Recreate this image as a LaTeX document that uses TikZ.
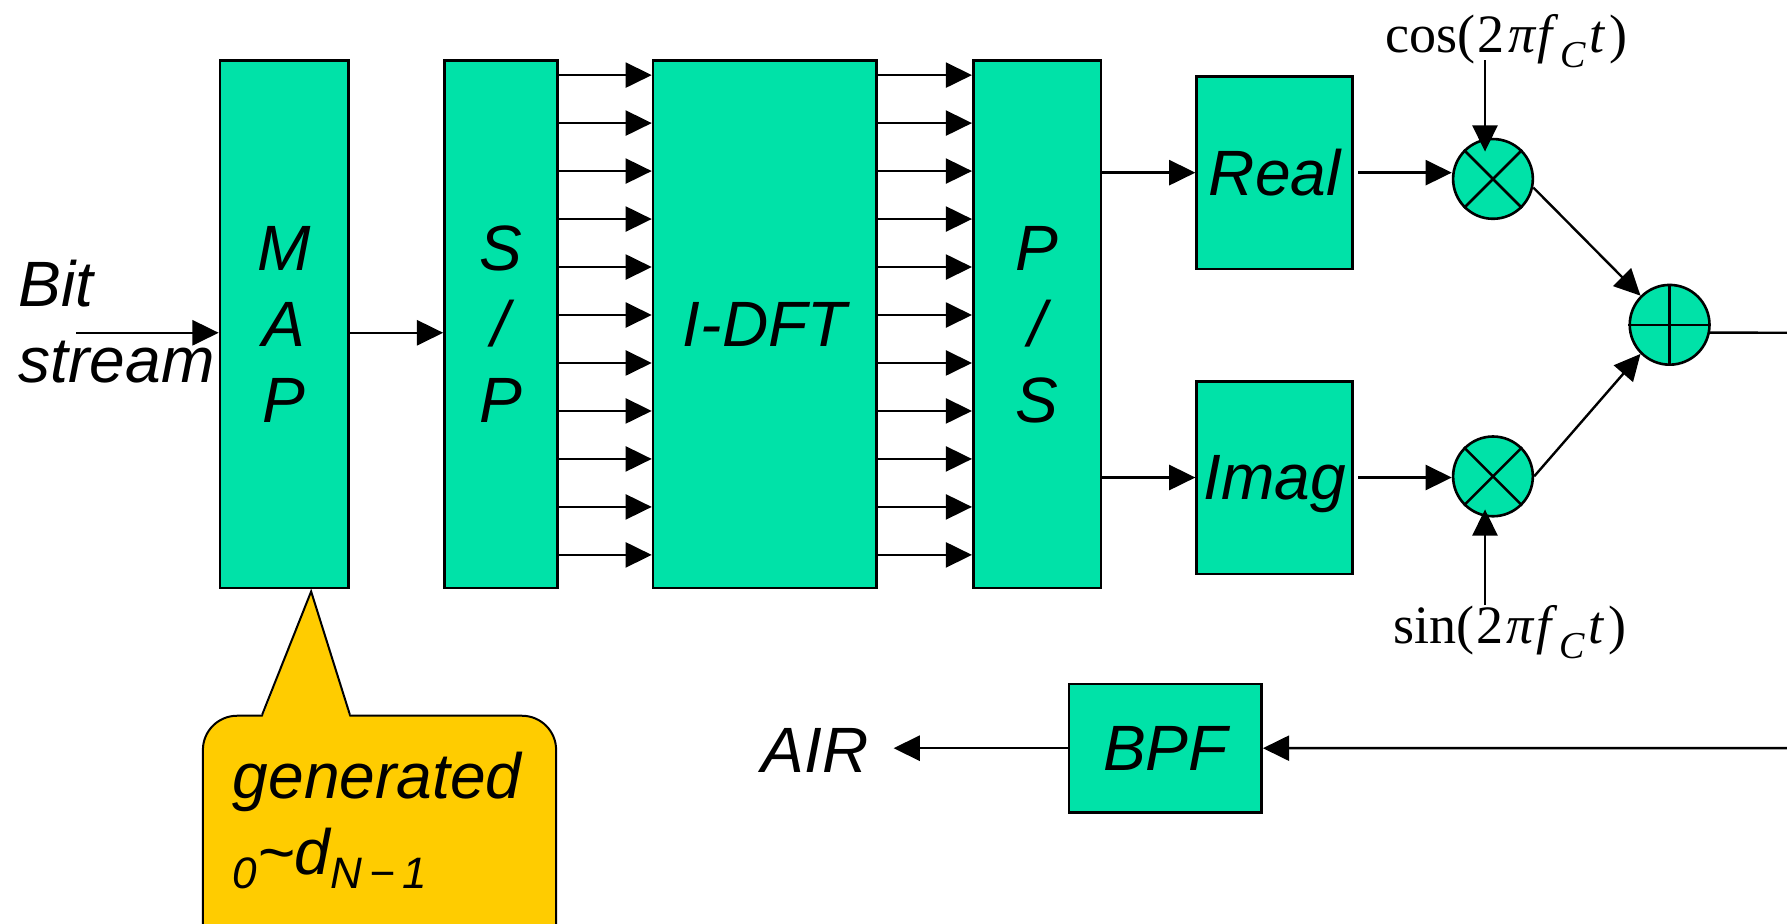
\documentclass[tikz,border=0pt]{standalone}
\usepackage{fontspec}
\setmainfont{Liberation Sans}
\newfontfamily\timesfont{Liberation Serif}
\usetikzlibrary{arrows.meta, positioning}
\definecolor{boxgreen}{RGB}{0,226,168}
\definecolor{noteyellow}{RGB}{255,204,0}
\newcommand{\lbl}{\fontsize{32}{38}\selectfont\itshape}
\newcommand{\sbs}[1]{\raisebox{-7.4pt}{\fontsize{22}{22}\selectfont #1}}
\newcommand{\osc}[1]{{\timesfont\fontsize{27}{30}\selectfont #1(\hspace{1pt}2\hspace{1.5pt}\textit{π}\hspace{0.5pt}\textit{f}\hspace{1pt}\raisebox{-7.4pt}{\fontsize{19}{19}\selectfont\textit{C}}\hspace{1.5pt}\textit{t}\hspace{2pt})}}

\begin{document}
\begin{tikzpicture}[x=0.02cm, y=-0.02cm, >={Triangle[length=4.6mm, width=4.4mm]}]
	\tikzset{block/.style={draw=black, fill=boxgreen, line width=1.3pt, inner sep=0pt, align=center, font=\lbl, text depth=0pt}}
	\tikzset{mixer/.style={circle, draw=black, fill=boxgreen, line width=1.3pt, minimum size=1.4cm, inner sep=0pt}}
	\tikzset{wire/.style={->, line width=1.2pt}}
	\useasboundingbox (0,0) rectangle (1568,810);
	\clip (0,0) rectangle (1568,810);
		% chain of blocks
		\foreach \name/\x/\w/\tag in {map/249.5/2.26cm/{M\\A\\P}, sp/439.5/1.98cm/{S\\/\\P}, idft/671/3.92cm/{I-DFT}, ps/910/2.24cm/{P\\/\\S}}
		{\node[block, minimum width=\w, minimum height=9.26cm] (\name) at (\x,284.5) {\tag};}
		\foreach \name/\y/\tag in {real/151.5/Real, imag/419/Imag}
		{\node[block, minimum width=2.74cm, minimum height=3.38cm] (\name) at (1118.5,\y) {\tag};}
		\node[block, minimum width=3.38cm, minimum height=2.26cm] (bpf) at (1022.5,656.5) {BPF};
		\node[mixer] (mul1) at (1310,157) {};
		\node[mixer] (mul2) at (1310,418) {};
		\node[mixer] (sum) at (1465,285) {};
		\draw[line width=1.3pt] (mul1.45) -- (mul1.225) (mul1.135) -- (mul1.315);
		\draw[line width=1.3pt] (mul2.45) -- (mul2.225) (mul2.135) -- (mul2.315);
		\draw[line width=1.3pt] (sum.north) -- (sum.south) (sum.west) -- (sum.east);
		% labels
		\node[anchor=base west, inner sep=0pt, align=left, font=\lbl] (bit) at (16,336) {Bit\\stream};
		\node[anchor=base, font=\lbl] (air) at (715,677.5) {AIR};
		\node[anchor=base, inner sep=0pt] (cosl) at (1322,46) {\osc{cos}};
		\node[anchor=base, inner sep=0pt] (sinl) at (1325,565) {\osc{sin}};
		\coordinate (bitin) at (67,292);
		\coordinate (costop) at (1303,53);
		\coordinate (sinbot) at (1303,531);
		% connectors
		\draw[wire] (bitin) -- (bitin -| map.west);
		\draw[wire] (map.east |- bitin) -- (sp.west |- bitin);
		\foreach \k in {0,...,10}
		{\draw[wire] ([shift={(0,14+42.1*\k)}]sp.north east) -- ([shift={(0,14+42.1*\k)}]idft.north west);
		 \draw[wire] ([shift={(0,14+42.1*\k)}]idft.north east) -- ([shift={(0,14+42.1*\k)}]ps.north west);}
		\draw[wire] (ps.east |- real) -- (real.west);
		\draw[wire] (ps.east |- imag) -- (imag.west);
		\draw[wire] ([xshift=0.07cm]real.east) -- (real.east -| mul1.west);
		\draw[wire] ([xshift=0.07cm]imag.east) -- (imag.east -| mul2.west);
		\draw[wire] (costop) -- ([shift={(-7,-24)}]mul1.center);
		\draw[wire] (sinbot) -- ([shift={(-7,29)}]mul2.center);
		\draw[wire] (mul1.-12) -- (sum.135);
		\draw[wire] (mul2.east) -- (sum.225);
		\draw[wire] (sum.-11.5) -- (1620,292) |- (bpf.east);
		\draw[wire] (bpf.west) -- ([xshift=0.32cm]bpf.west -| air.east);
		% note on the mapper
		\node[draw=black, fill=noteyellow, line width=1pt, rounded corners=0.6cm, minimum width=6.2cm, minimum height=4.84cm] (note) at (333,749) {};
		\coordinate (ptip) at (273,519);
		\fill[noteyellow] ([shift={(-103,3)}]note.north) -- (ptip) -- ([shift={(-26,3)}]note.north) -- cycle;
		\draw[line width=1pt] ([xshift=-2.06cm]note.north) -- (ptip) -- ([xshift=-0.52cm]note.north);
		\node[anchor=base west, inner sep=0pt, align=left, font=\lbl] (notetext) at (204,767) {generated\\\sbs{0}\textasciitilde d\sbs{N\,−\,1}};
	\end{tikzpicture}
\end{document}
